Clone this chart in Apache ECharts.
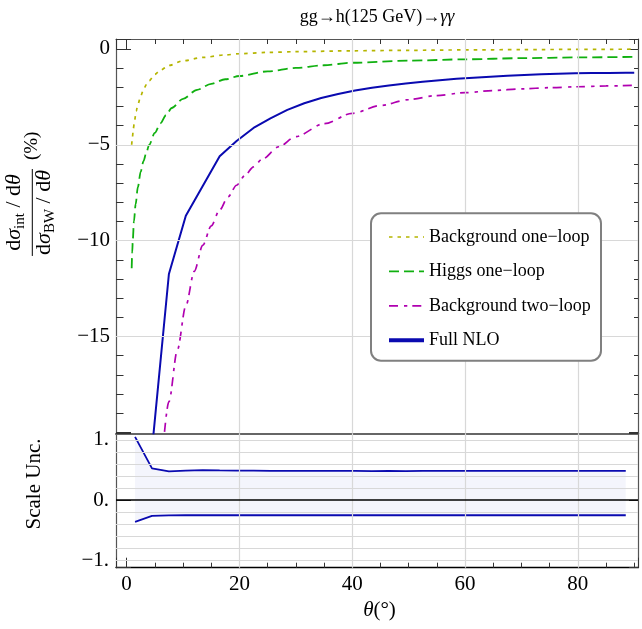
<!DOCTYPE html>
<html><head><meta charset="utf-8">
<script src="https://cdn.jsdelivr.net/npm/echarts@6/dist/echarts.min.js"></script>
<style>html,body{margin:0;padding:0;background:#fff}#c{width:642px;height:629px}</style>
</head><body><div id="c"></div>
<script>
// ---------------- data ----------------
const seriesNames = ['Background one\u2212loop', 'Higgs one\u2212loop', 'Background two\u2212loop', 'Full NLO'];

const thetaBg1 = [0.9, 1.0, 1.2, 1.4, 1.7, 2.0, 2.5, 3.0, 3.5, 4.0, 5.0, 6.0, 7.5, 10, 13.5, 17.5, 20, 25, 30, 40, 50, 60, 70, 80, 90];
const bgOneLoop = [-5.0, -4.7, -4.15, -3.75, -3.25, -2.9, -2.45, -2.12, -1.86, -1.65, -1.33, -1.1, -0.86, -0.62, -0.44, -0.31, -0.25, -0.18, -0.14, -0.095, -0.07, -0.05, -0.035, -0.022, -0.012];

const thetaH1 = [0.9, 1.0, 1.1, 1.3, 1.6, 2.0, 2.5, 3.0, 3.5, 4.0, 5.0, 6.0, 7.0, 8.0, 10, 12.5, 15, 17.5, 20, 25, 30, 35, 40, 50, 60, 70, 80, 90];
const higgsOneLoop = [-11.44, -10.6, -9.95, -9.0, -8.1, -7.2, -6.4, -5.85, -5.4, -5.0, -4.38, -3.88, -3.45, -3.08, -2.6, -2.13, -1.82, -1.58, -1.41, -1.17, -0.99, -0.85, -0.72, -0.61, -0.54, -0.48, -0.44, -0.41];

const thetaBg2 = [6.0, 7.5, 9.0, 10.5, 12, 13.5, 15, 16.5, 18, 19.5, 21, 22.5, 24, 27, 30, 35, 40, 45, 50, 55, 60, 65, 70, 75, 80, 85, 90];
const bgTwoLoop = [-22.4, -18.4, -15.7, -13.4, -11.6, -10.25, -9.23, -8.4, -7.71, -7.11, -6.59, -6.15, -5.76, -5.1, -4.57, -3.9, -3.36, -2.95, -2.64, -2.43, -2.28, -2.17, -2.08, -2.02, -1.97, -1.93, -1.90];

const thetaNLO = [4.5, 7.5, 10.5, 13.5, 16.5, 19.5, 22.5, 25.5, 28.5, 31.5, 34.5, 37.5, 40.5, 43.5, 46.5, 49.5, 52.5, 55.5, 58.5, 61.5, 64.5, 67.5, 70.5, 73.5, 76.5, 79.5, 82.5, 85.5, 88.5, 90];
const fullNLO = [-20.9, -11.74, -8.70, -7.15, -5.60, -4.80, -4.12, -3.62, -3.18, -2.83, -2.56, -2.35, -2.17, -2.02, -1.90, -1.80, -1.71, -1.63, -1.56, -1.50, -1.45, -1.40, -1.36, -1.32, -1.29, -1.27, -1.26, -1.25, -1.24, -1.24];

const thetaUnc = [1.5, 4.5, 7.5, 10.5, 13.5, 16.5, 19.5, 22.5, 25.5, 28.5, 31.5, 34.5, 37.5, 40.5, 43.5, 46.5, 49.5, 52.5, 55.5, 58.5, 61.5, 64.5, 67.5, 70.5, 73.5, 76.5, 79.5, 82.5, 85.5, 88.5];
const uncUpper = [1.05, 0.527, 0.478, 0.49, 0.50, 0.495, 0.492, 0.492, 0.487, 0.487, 0.487, 0.487, 0.486, 0.485, 0.483, 0.487, 0.484, 0.487, 0.487, 0.487, 0.487, 0.487, 0.487, 0.487, 0.487, 0.487, 0.486, 0.486, 0.486, 0.486];
const uncLower = [-0.36, -0.26, -0.252, -0.25, -0.25, -0.25, -0.25, -0.25, -0.25, -0.25, -0.25, -0.25, -0.25, -0.25, -0.25, -0.25, -0.25, -0.25, -0.25, -0.25, -0.25, -0.25, -0.25, -0.25, -0.25, -0.25, -0.25, -0.25, -0.25, -0.25];

const xTickLabels = [0, 20, 40, 60, 80];
const yTopTickLabels = [0, -5, -10, -15];
const yBottomTickLabels = [1, 0, -1];
const gridXs = [20, 40, 60, 80];
const gridYTop = [-5, -10, -15];
const gridYBottom = [-1, -0.8, -0.6, -0.4, -0.2, 0.2, 0.4, 0.6, 0.8, 1];

// ---------------- chart ----------------
const FONT = 'Liberation Serif';
const C_YEL = '#b5b500', C_GRN = '#10b010', C_MAG = '#b000b0', C_BLU = '#0a0ab0';
const XMIN = -1.88, XMAX = 90.67;
const zip = (a, b) => a.map((v, i) => [v, b[i]]);
const minus = s => String(s).replace('-', '\u2212');

const ctx = document.createElement('canvas').getContext('2d');
function measure(t, size, italic) { ctx.font = (italic ? 'italic ' : '') + size + 'px "' + FONT + '"'; return ctx.measureText(t).width; }
function row(pieces, baseline) {
  const total = pieces.reduce((s, p) => s + measure(p[0], p[1], p[2]), 0);
  let x = -total / 2; const out = [];
  for (const p of pieces) {
    out.push({ type: 'text', x: x, y: baseline + p[3] - 0.3375 * p[1],
      style: { text: p[0], fontSize: p[1], fontFamily: FONT, fontStyle: p[2] ? 'italic' : 'normal', fill: '#000',
        align: 'left', verticalAlign: 'middle', textAlign: 'left', textVerticalAlign: 'middle' } });
    x += measure(p[0], p[1], p[2]);
  }
  return { els: out, width: total };
}
const num = row([['d', 22, false, 0], ['\u03c3', 22, true, 0], ['int', 15, false, 3], [' / ', 22, false, 0], ['d', 22, false, 0], ['\u03b8', 22, true, 0]], -10.6);
const den = row([['d', 22, false, 0], ['\u03c3', 22, true, 0], ['BW', 15, false, 3.5], [' / ', 22, false, 0], ['d', 22, false, 0], ['\u03b8', 22, true, 0]], 19.5);
const barHalf = Math.max(num.width, den.width) / 2 + 1;

const tickStyle = { color: '#333', width: 1 };
function xAx(grid, pos, opts) {
  return Object.assign({ type: 'value', gridIndex: grid, position: pos, min: XMIN, max: XMAX, splitNumber: 5, minInterval: 20, maxInterval: 20,
    axisLine: { show: true, onZero: false, lineStyle: { color: '#555', width: 1.2 } },
    axisTick: { show: true, inside: true, length: 10, lineStyle: tickStyle },
    minorTick: { show: true, splitNumber: 4, length: 5, lineStyle: tickStyle },
    axisLabel: { show: false }, splitLine: { show: false }, minorSplitLine: { show: false } }, opts);
}
function yAx(grid, pos, min, max, interval, opts) {
  return Object.assign({ type: 'value', gridIndex: grid, position: pos, min: min, max: max, splitNumber: 4, minInterval: interval, maxInterval: interval,
    axisLine: { show: true, onZero: false, lineStyle: { color: '#555', width: 1.2 } },
    axisTick: { show: true, inside: true, length: pos === 'left' ? 15 : 9, lineStyle: tickStyle },
    minorTick: { show: true, splitNumber: 5, length: pos === 'left' ? 7.5 : 4, lineStyle: tickStyle },
    axisLabel: { show: false }, splitLine: { show: false }, minorSplitLine: { show: false } }, opts);
}
const labelStyle = { show: true, fontFamily: FONT, fontSize: 21, color: '#000' };

const option = {
  animation: false,
  backgroundColor: '#fff',
  grid: [
    { left: 116, top: 39, width: 522, height: 394.3, outerBoundsMode: 'none', containLabel: false },
    { left: 116, top: 433.3, width: 522, height: 134.4, outerBoundsMode: 'none', containLabel: false }
  ],
  xAxis: [
    xAx(0, 'bottom', { axisTick: { show: false }, minorTick: { show: false }, axisLine: { show: true, onZero: false, lineStyle: { color: '#666', width: 2.2 } } }),
    xAx(0, 'top', {}),
    xAx(1, 'bottom', { axisLine: { show: true, onZero: false, lineStyle: { color: '#000', width: 1.4 } },
      axisLabel: Object.assign({}, labelStyle, { margin: 17, verticalAlign: 'middle',
        formatter: v => xTickLabels.some(t => Math.abs(t - v) < 1e-6) ? String(Math.round(v)) : '' }) })
  ],
  yAxis: [
    yAx(0, 'left', -20.05, 0.52, 5, { axisLabel: Object.assign({}, labelStyle, { margin: 6,
      formatter: v => yTopTickLabels.some(t => Math.abs(t - v) < 1e-6) ? minus(Math.round(v)) : '' }) }),
    yAx(0, 'right', -20.05, 0.52, 5, {}),
    yAx(1, 'left', -1.12, 1.11, 1, { splitNumber: 2, axisLabel: Object.assign({}, labelStyle, { margin: 7,
      formatter: v => yBottomTickLabels.some(t => Math.abs(t - v) < 1e-6) ? minus(Math.round(v)) + '.' : '' }) }),
    yAx(1, 'right', -1.12, 1.11, 1, { splitNumber: 2 })
  ],
  legend: {
    data: [
      { name: seriesNames[0], lineStyle: { width: 1.5 } },
      { name: seriesNames[1], lineStyle: { width: 1.8 } },
      { name: seriesNames[2], lineStyle: { width: 1.7 } },
      { name: seriesNames[3], lineStyle: { width: 4 } }
    ],
    orient: 'vertical', left: 382, top: 222, itemWidth: 35, itemHeight: 14, itemGap: 14.4, z: 20, selectedMode: false,
    itemStyle: { opacity: 0 },
    textStyle: { fontFamily: FONT, fontSize: 18, color: '#000', lineHeight: 20 }
  },
  series: [
    { name: '_gridTop', type: 'line', xAxisIndex: 0, yAxisIndex: 0, data: [], z: 1, silent: true,
      markLine: { silent: true, symbol: ['none', 'none'], label: { show: false }, emphasis: { disabled: true },
        lineStyle: { color: '#d8d8d8', width: 1.2, type: 'solid' },
        data: gridXs.map(v => ({ xAxis: v })).concat(gridYTop.map(v => ({ yAxis: v }))) } },
    { name: '_gridBottom', type: 'line', xAxisIndex: 2, yAxisIndex: 2, data: [], z: 1, silent: true,
      markLine: { silent: true, symbol: ['none', 'none'], label: { show: false }, emphasis: { disabled: true },
        lineStyle: { color: '#d8d8d8', width: 1.2, type: 'solid' },
        data: gridXs.map(v => ({ xAxis: v })).concat(gridYBottom.map(v => ({ yAxis: v }))) } },
    { name: seriesNames[0], type: 'line', xAxisIndex: 0, yAxisIndex: 0, data: zip(thetaBg1, bgOneLoop), symbol: 'none',
      smooth: 0.3, smoothMonotone: 'x', z: 3, itemStyle: { color: C_YEL }, lineStyle: { color: C_YEL, width: 1.7, type: [3.5, 5] } },
    { name: seriesNames[1], type: 'line', xAxisIndex: 0, yAxisIndex: 0, data: zip(thetaH1, higgsOneLoop), symbol: 'none',
      smooth: 0.3, smoothMonotone: 'x', z: 3, itemStyle: { color: C_GRN }, lineStyle: { color: C_GRN, width: 1.8, type: [10, 5] } },
    { name: seriesNames[2], type: 'line', xAxisIndex: 0, yAxisIndex: 0, data: zip(thetaBg2, bgTwoLoop), symbol: 'none',
      smooth: 0.3, smoothMonotone: 'x', z: 3, itemStyle: { color: C_MAG }, lineStyle: { color: C_MAG, width: 1.7, type: [9, 6, 3.3, 5] } },
    { name: seriesNames[3], type: 'line', xAxisIndex: 0, yAxisIndex: 0, data: zip(thetaNLO, fullNLO), symbol: 'none',
      z: 3, itemStyle: { color: C_BLU }, lineStyle: { color: C_BLU, width: 2 } },
    { name: '_uncUpper', type: 'line', xAxisIndex: 2, yAxisIndex: 2, data: zip(thetaUnc, uncUpper), symbol: 'none', z: 2,
      lineStyle: { color: C_BLU, width: 1.8 }, areaStyle: { color: 'rgba(60,80,200,0.08)' } },
    { name: '_uncLower', type: 'line', xAxisIndex: 2, yAxisIndex: 2, data: zip(thetaUnc, uncLower), symbol: 'none', z: 2,
      lineStyle: { color: C_BLU, width: 1.8 }, areaStyle: { color: 'rgba(60,80,200,0.08)' } },
    { name: '_zero', type: 'line', xAxisIndex: 2, yAxisIndex: 2, data: [], z: 4, silent: true,
      markLine: { silent: true, symbol: ['none', 'none'], label: { show: false }, emphasis: { disabled: true },
        lineStyle: { color: '#000', width: 1.5, type: 'solid' }, data: [{ yAxis: 0 }] } }
  ],
  graphic: [
    { type: 'rect', z: 10, shape: { x: 371, y: 213.3, width: 230, height: 147.4, r: 10 },
      style: { fill: '#fff', stroke: '#808080', lineWidth: 2 } },
    { type: 'text', z: 10, x: 377, y: 17.5,
      style: { text: 'gg\u2192h(125 GeV)\u2192{i|\u03b3\u03b3}', fontSize: 18, fontFamily: FONT, fill: '#000',
        align: 'center', verticalAlign: 'middle', textAlign: 'center', textVerticalAlign: 'middle',
        rich: { i: { fontStyle: 'italic', fontSize: 18, fontFamily: FONT } } } },
    { type: 'group', x: 32.3, y: 212.5, rotation: Math.PI / 2, z: 10,
      children: num.els.concat(den.els).concat([
        { type: 'line', shape: { x1: -barHalf, y1: 0, x2: barHalf, y2: 0 }, style: { stroke: '#000', lineWidth: 1 } },
        { type: 'text', x: 66.7, y: 6.4 - 0.3375 * 19,
          style: { text: '(%)', fontSize: 19, fontFamily: FONT, fill: '#000', align: 'center', verticalAlign: 'middle', textAlign: 'center', textVerticalAlign: 'middle' } }
      ]) },
    { type: 'text', z: 10, x: 34.6, y: 484, rotation: Math.PI / 2,
      style: { text: 'Scale Unc.', fontSize: 21, fontFamily: FONT, fill: '#000',
        align: 'center', verticalAlign: 'middle', textAlign: 'center', textVerticalAlign: 'middle' } },
    { type: 'text', z: 10, x: 379.5, y: 610,
      style: { text: '{i|\u03b8}(\u00b0)', fontSize: 21, fontFamily: FONT, fill: '#000',
        align: 'center', verticalAlign: 'middle', textAlign: 'center', textVerticalAlign: 'middle',
        rich: { i: { fontStyle: 'italic', fontSize: 21, fontFamily: FONT } } } }
  ]
};
const chart = echarts.init(document.getElementById('c'), null, { renderer: 'canvas' });
chart.setOption(option);
</script></body></html>
